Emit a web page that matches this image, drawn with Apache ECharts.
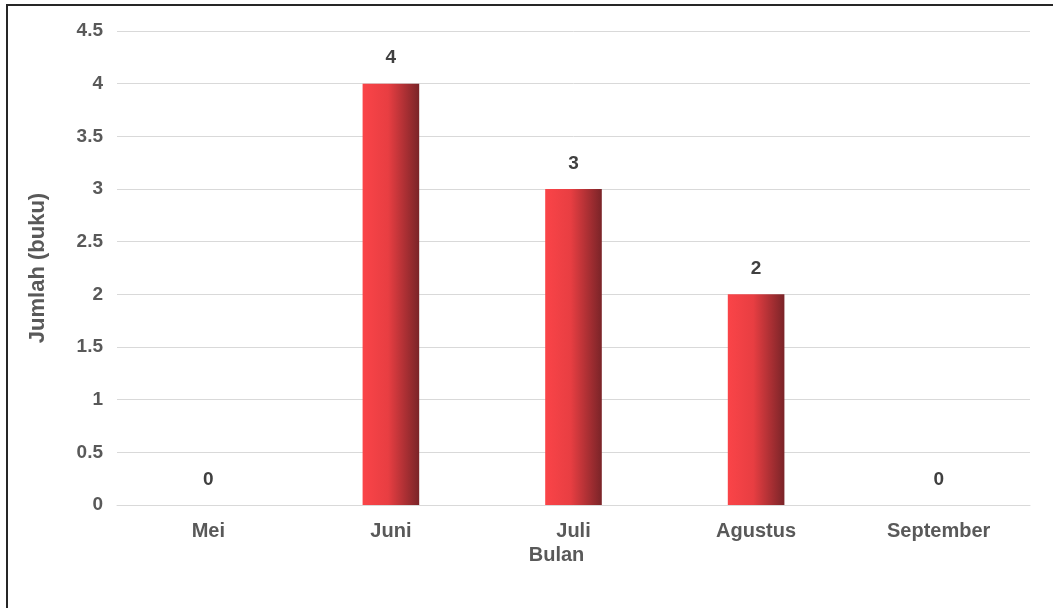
<!DOCTYPE html>
<html>
<head>
<meta charset="utf-8">
<script src="https://cdn.jsdelivr.net/npm/echarts@6/dist/echarts.min.js"></script>
<style>
html,body{margin:0;padding:0;background:#fff;}
#chart{width:1053px;height:608px;}
#frame{position:absolute;left:6px;top:4px;width:1060px;height:620px;border-left:2px solid #262626;border-top:2px solid #262626;pointer-events:none;}
</style>
</head>
<body>
<div id="chart"></div>
<div id="frame"></div>
<script>
const categories = ['Mei', 'Juni', 'Juli', 'Agustus', 'September'];
const values = [0, 4, 3, 2, 0];
const yMin = 0, yMax = 4.5, yStep = 0.5;
const xTitle = 'Bulan';
const yTitle = 'Jumlah (buku)';

const font = 'Liberation Sans, Arial, sans-serif';
const txt = '#595959';
const chart = echarts.init(document.getElementById('chart'), null, {renderer: 'canvas'});
chart.setOption({
  animation: false,
  backgroundColor: '#ffffff',
  grid: {left: 117, right: 23, top: 31, bottom: 103, containLabel: false},
  xAxis: {
    type: 'category',
    data: categories,
    name: xTitle,
    nameLocation: 'middle',
    nameGap: 38,
    nameTextStyle: {color: txt, fontWeight: 'bold', fontSize: 20, fontFamily: font, padding: [0, 34, 0, 0]},
    axisLine: {show: true, lineStyle: {color: '#d9d9d9', width: 1}},
    axisTick: {show: false},
    axisLabel: {color: txt, fontWeight: 'bold', fontSize: 20, fontFamily: font, margin: 16}
  },
  yAxis: {
    type: 'value',
    min: yMin, max: yMax, interval: yStep,
    name: yTitle,
    nameLocation: 'middle',
    nameRotate: 90,
    nameGap: 68,
    nameTextStyle: {color: txt, fontWeight: 'bold', fontSize: 22, fontFamily: font},
    axisLine: {show: false},
    axisTick: {show: false},
    axisLabel: {color: txt, fontWeight: 'bold', fontSize: 19, fontFamily: font, margin: 14},
    splitLine: {lineStyle: {color: '#d9d9d9', width: 1}}
  },
  series: [{
    type: 'bar',
    data: values,
    barWidth: '31%',
    itemStyle: {
      color: new echarts.graphic.LinearGradient(0, 0, 1, 0, [
        {offset: 0, color: '#FA4448'},
        {offset: 0.45, color: '#E83E42'},
        {offset: 1, color: '#7A2428'}
      ])
    },
    label: {
      show: true, position: 'top', distance: 16,
      color: '#404040', fontWeight: 'bold', fontSize: 19, fontFamily: font
    }
  }]
});
</script>
</body>
</html>
